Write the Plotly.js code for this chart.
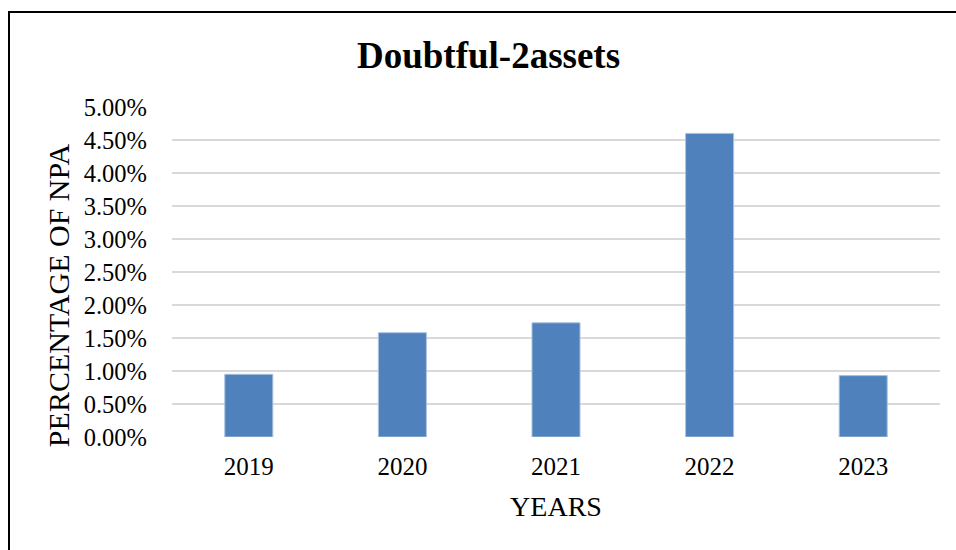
<!DOCTYPE html>
<html>
<head>
<meta charset="utf-8">
<script src="https://cdn.plot.ly/plotly-3.0.1.min.js"></script>
<style>
  html, body { margin: 0; padding: 0; background: #ffffff; }
  #chart { width: 956px; height: 550px; position: relative; }
  #frame { position: absolute; left: 8px; top: 11px; width: 1000px; height: 600px;
           border: 2px solid #000000; pointer-events: none; }
</style>
</head>
<body>
<div id="chart"></div>
<div id="frame"></div>
<script>
const chartTitle = "Doubtful-2assets";
const xAxisTitle = "YEARS";
const yAxisTitle = "PERCENTAGE OF NPA";
const years = ["2019", "2020", "2021", "2022", "2023"];
const doubtfulShare = [0.0095, 0.0158, 0.0173, 0.0460, 0.0093];
const yTickValues = [0, 0.005, 0.01, 0.015, 0.02, 0.025, 0.03, 0.035, 0.04, 0.045, 0.05];

const serif = "Liberation Serif, Times New Roman, serif";

const trace = {
  type: "bar",
  x: years,
  y: doubtfulShare,
  marker: { color: "#4f81bd", line: { color: "#a9c0de", width: 1 } },
  hoverinfo: "x+y"
};

const layout = {
  width: 956,
  height: 550,
  paper_bgcolor: "#ffffff",
  plot_bgcolor: "#ffffff",
  margin: { l: 172, r: 16, t: 107, b: 113 },
  bargap: 0.6875,
  showlegend: false,
  title: {
    text: "<b>" + chartTitle + "</b>",
    font: { family: serif, size: 37, color: "#000000" },
    xref: "container", yref: "container",
    x: 0.511, y: 0.9, xanchor: "center", yanchor: "middle"
  },
  xaxis: {
    type: "category",
    showgrid: false,
    showline: false,
    zeroline: false,
    ticks: "",
    ticklabelstandoff: 12,
    tickfont: { family: serif, size: 25, color: "#000000" },
    title: { text: xAxisTitle, font: { family: serif, size: 28, color: "#000000" }, standoff: 17 }
  },
  yaxis: {
    range: [0, 0.05],
    tickvals: yTickValues,
    tickformat: ".2%",
    showgrid: true,
    gridcolor: "#d9d9d9",
    gridwidth: 1.5,
    zeroline: false,
    showline: false,
    ticks: "",
    ticklabelstandoff: 24,
    tickfont: { family: serif, size: 24.5, color: "#000000" }
  },
  annotations: [{
    text: yAxisTitle,
    textangle: -90,
    xref: "paper", yref: "paper",
    x: -0.1484, y: 0.43,
    xanchor: "center", yanchor: "middle",
    showarrow: false,
    font: { family: serif, size: 30, color: "#000000" }
  }]
};

Plotly.newPlot("chart", [trace], layout, { displayModeBar: false, staticPlot: true });
</script>
</body>
</html>
